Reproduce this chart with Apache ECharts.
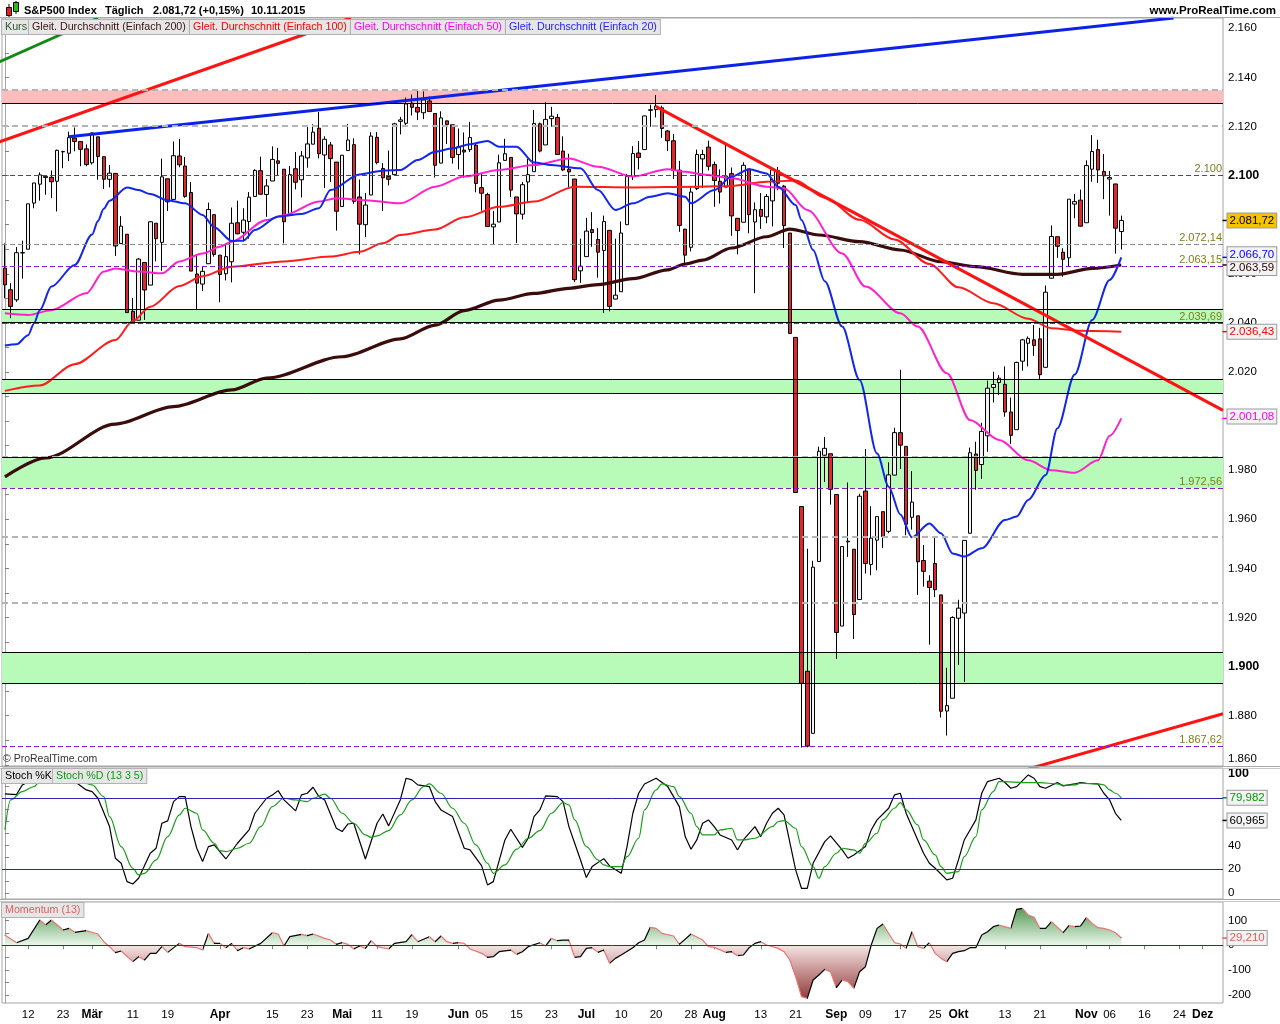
<!DOCTYPE html>
<html>
<head>
<meta charset="utf-8">
<title>S&amp;P500 Index</title>
<script src="https://cdn.jsdelivr.net/npm/echarts@6.0.0/dist/echarts.min.js"></script>
<style>
html,body{margin:0;padding:0;background:#ffffff;}
#chart{width:1280px;height:1024px;}
</style>
</head>
<body>
<div id="chart"></div>
<script>
// ---------------- DATA ----------------
// trading days per month (2015), incl. the empty future days up to early December
const monthKeys = ['2015-02','2015-03','2015-04','2015-05','2015-06','2015-07','2015-08','2015-09','2015-10','2015-11','2015-12'];
const daysFeb = [6,9,10,11,12,13,17,18,19,20,23,24,25,26,27];
const daysMar = [2,3,4,5,6,9,10,11,12,13,16,17,18,19,20,23,24,25,26,27,30,31];
const daysApr = [1,2,6,7,8,9,10,13,14,15,16,17,20,21,22,23,24,27,28,29,30];
const daysMay = [1,4,5,6,7,8,11,12,13,14,15,18,19,20,21,22,26,27,28,29];
const daysJun = [1,2,3,4,5,8,9,10,11,12,15,16,17,18,19,22,23,24,25,26,29,30];
const daysJul = [1,2,6,7,8,9,10,13,14,15,16,17,20,21,22,23,24,27,28,29,30,31];
const daysAug = [3,4,5,6,7,10,11,12,13,14,17,18,19,20,21,24,25,26,27,28,31];
const daysSep = [1,2,3,4,8,9,10,11,14,15,16,17,18,21,22,23,24,25,28,29,30];
const daysOct = [1,2,5,6,7,8,9,12,13,14,15,16,19,20,21,22,23,26,27,28,29,30];
const daysNov = [2,3,4,5,6,9,10,11,12,13,16,17,18,19,20,23,24,25,27,30];
const daysDec = [1,2,3,4];

// daily candles [open, high, low, close]
const candlesFeb = [
[2062.3,2072.4,2050.0,2055.5],[2053.5,2056.2,2041.9,2046.7],[2049.4,2070.9,2048.6,2068.6],[2068.6,2073.5,2058.0,2068.5],
[2070.0,2088.5,2070.0,2088.5],[2088.8,2097.0,2086.7,2097.0],[2096.5,2101.3,2089.8,2100.3],[2099.2,2100.2,2092.2,2099.7],
[2099.3,2102.1,2090.8,2097.5],[2097.7,2110.6,2085.4,2110.3],[2109.8,2110.1,2103.0,2109.7],[2109.1,2117.9,2105.9,2115.5],
[2115.3,2119.6,2109.9,2113.9],[2113.9,2113.9,2103.8,2110.7],[2110.9,2112.7,2103.8,2104.5]];
const candlesMar = [
[2105.2,2117.5,2104.5,2117.4],[2115.8,2115.8,2098.3,2107.8],[2107.7,2107.7,2094.5,2098.5],[2098.5,2104.3,2095.2,2101.0],
[2100.9,2100.9,2067.3,2071.3],[2072.3,2083.5,2072.2,2079.4],[2076.1,2076.1,2044.2,2044.2],[2044.7,2050.1,2039.7,2040.2],
[2041.1,2066.4,2041.1,2066.0],[2064.6,2064.6,2041.2,2053.4],[2055.4,2081.4,2055.4,2081.2],[2080.6,2080.6,2065.1,2074.3],
[2072.8,2106.9,2061.2,2099.5],[2098.7,2098.7,2085.6,2089.3],[2090.3,2113.9,2090.3,2108.1],[2108.0,2114.9,2103.4,2104.4],
[2103.9,2107.6,2091.0,2091.5],[2093.1,2097.4,2061.1,2061.1],[2059.9,2067.2,2045.5,2056.2],[2055.8,2062.8,2053.0,2061.0],
[2064.1,2089.0,2064.1,2086.2],[2084.1,2084.1,2067.0,2067.9]];
const candlesApr = [
[2067.6,2067.6,2048.4,2059.7],[2060.0,2072.2,2057.3,2067.0],[2064.9,2087.0,2056.5,2080.6],[2080.8,2089.8,2076.1,2076.3],
[2076.9,2086.7,2073.3,2081.9],[2081.3,2093.3,2074.3,2091.2],[2091.5,2102.6,2091.5,2102.1],[2102.0,2107.7,2092.3,2092.4],
[2092.3,2098.6,2083.2,2095.8],[2097.8,2111.9,2097.8,2106.6],[2106.0,2111.3,2100.0,2105.0],[2102.6,2102.6,2072.4,2081.2],
[2084.1,2103.9,2084.1,2100.4],[2102.8,2109.6,2094.4,2097.3],[2098.3,2110.0,2091.1,2108.0],[2107.2,2120.5,2103.2,2112.9],
[2112.8,2120.9,2112.8,2117.7],[2119.3,2125.9,2107.0,2108.9],[2108.4,2116.0,2094.9,2114.8],[2112.5,2113.7,2097.4,2106.9],
[2105.5,2105.5,2077.6,2085.5]];
const candlesMay = [
[2087.4,2108.4,2087.4,2108.3],[2110.2,2121.0,2110.2,2114.5],[2112.6,2115.2,2088.5,2089.5],[2091.3,2098.4,2067.9,2080.2],
[2080.0,2092.9,2075.0,2088.0],[2092.1,2117.7,2092.1,2116.1],[2115.6,2117.7,2104.6,2105.3],[2102.9,2105.1,2085.6,2099.1],
[2099.6,2110.2,2096.0,2098.5],[2100.4,2121.5,2100.4,2121.1],[2122.1,2123.9,2116.8,2122.7],[2121.3,2131.8,2120.0,2129.2],
[2129.5,2133.0,2124.5,2127.8],[2127.8,2134.7,2122.6,2125.9],[2125.6,2134.3,2123.0,2130.8],[2130.4,2132.2,2126.1,2126.1],
[2125.3,2125.3,2099.2,2104.2],[2105.1,2126.2,2105.1,2123.5],[2122.3,2122.3,2112.9,2120.8],[2120.7,2120.7,2104.9,2107.4]];
const candlesJun = [
[2108.6,2119.2,2102.5,2111.7],[2110.4,2117.6,2099.1,2109.6],[2110.6,2121.9,2109.6,2115.5],[2112.4,2112.9,2093.2,2096.8],
[2095.1,2101.0,2085.7,2092.8],[2092.3,2093.0,2079.1,2079.3],[2079.1,2085.6,2072.1,2080.2],[2081.1,2108.5,2081.1,2105.2],
[2106.2,2115.0,2106.2,2108.9],[2107.4,2107.4,2091.3,2094.1],[2091.3,2091.3,2072.5,2084.4],[2084.3,2097.4,2082.1,2096.3],
[2097.4,2106.8,2088.9,2100.4],[2101.6,2126.7,2101.6,2121.2],[2121.1,2121.6,2109.5,2110.0],[2112.5,2129.9,2112.5,2122.9],
[2123.2,2128.0,2119.9,2124.2],[2123.7,2125.1,2108.6,2108.6],[2110.0,2116.0,2101.8,2102.3],[2102.6,2108.9,2095.4,2101.5],
[2098.6,2098.6,2056.6,2057.6],[2061.2,2074.3,2056.3,2063.1]];
const candlesJul = [
[2067.0,2082.8,2067.0,2077.4],[2078.0,2085.1,2071.0,2076.8],[2074.0,2078.6,2058.4,2068.8],[2069.5,2083.7,2044.0,2081.3],
[2077.7,2077.7,2044.7,2046.7],[2049.7,2074.3,2049.7,2051.3],[2052.7,2081.3,2052.7,2076.6],[2080.0,2100.7,2080.0,2099.6],
[2099.7,2112.0,2098.2,2109.0],[2109.2,2114.1,2102.5,2107.4],[2110.6,2124.4,2110.6,2124.3],[2126.8,2128.9,2119.9,2126.6],
[2126.9,2132.8,2123.7,2128.3],[2127.6,2128.5,2115.4,2119.2],[2118.2,2118.5,2110.0,2114.2],[2114.2,2116.9,2098.6,2102.2],
[2102.2,2106.0,2077.1,2079.7],[2078.2,2078.2,2063.5,2067.6],[2070.8,2095.6,2069.1,2093.3],[2094.7,2110.6,2094.1,2108.6],
[2106.8,2110.5,2095.0,2108.6],[2111.6,2114.2,2102.1,2103.8]];
const candlesAug = [
[2104.5,2105.7,2087.3,2098.0],[2097.7,2102.5,2088.6,2093.3],[2095.3,2112.7,2095.3,2099.8],[2100.8,2103.3,2075.5,2083.6],
[2082.6,2082.6,2067.9,2077.6],[2081.0,2105.4,2081.0,2104.2],[2102.7,2102.7,2076.5,2084.1],[2081.1,2089.1,2052.1,2086.1],
[2086.2,2092.9,2078.3,2083.4],[2083.2,2092.5,2080.6,2091.5],[2089.7,2102.9,2079.3,2102.4],[2102.0,2103.5,2094.1,2096.9],
[2095.7,2096.2,2070.5,2079.6],[2076.6,2076.6,2035.7,2035.7],[2034.1,2034.1,1970.9,1970.9],[1965.2,1965.2,1867.0,1893.2],
[1898.1,1948.0,1867.1,1867.6],[1872.8,1943.1,1872.8,1940.5],[1942.8,1989.6,1942.8,1987.7],[1986.1,1993.5,1975.2,1988.9],
[1986.7,1986.7,1966.0,1972.2]];
const candlesSep = [
[1970.1,1970.1,1903.1,1913.9],[1916.5,1948.9,1916.5,1948.9],[1950.8,1975.0,1944.7,1951.1],[1947.8,1947.8,1911.2,1921.2],
[1927.3,1970.4,1927.3,1969.4],[1971.5,1988.6,1937.9,1942.0],[1941.6,1965.3,1937.2,1952.3],[1951.5,1961.1,1939.2,1961.1],
[1963.1,1963.1,1948.3,1953.0],[1955.1,1983.2,1954.3,1978.1],[1978.0,1997.3,1977.9,1995.3],[1995.3,2020.9,1980.5,1990.2],
[1989.7,1989.7,1953.5,1958.0],[1960.8,1979.6,1955.8,1967.0],[1961.4,1961.4,1929.2,1942.7],[1943.2,1949.5,1932.6,1938.8],
[1934.8,1937.2,1908.9,1932.2],[1942.0,1952.9,1928.3,1931.3],[1929.2,1929.2,1879.2,1881.8],[1881.9,1899.5,1871.9,1884.1],
[1887.1,1920.5,1887.1,1920.0]];
const candlesOct = [
[1919.7,1927.2,1900.7,1923.8],[1921.8,1951.4,1893.7,1951.4],[1954.3,1989.2,1954.3,1987.1],[1986.6,1991.6,1972.0,1979.9],
[1982.3,1999.3,1976.4,1995.8],[1994.0,2016.5,1987.5,2013.4],[2013.7,2020.1,2007.6,2014.9],[2015.7,2018.7,2010.6,2017.5],
[2015.0,2022.3,2001.8,2003.7],[2003.7,2009.6,1990.7,1994.2],[1996.5,2024.2,1996.5,2023.9],[2024.4,2033.5,2020.5,2033.1],
[2031.7,2034.5,2022.3,2033.7],[2033.1,2039.1,2026.6,2030.8],[2033.5,2038.0,2017.2,2018.9],[2021.9,2055.2,2021.9,2052.5],
[2058.2,2079.7,2058.2,2075.2],[2075.1,2075.1,2066.5,2071.2],[2068.8,2070.4,2058.8,2065.9],[2066.5,2090.4,2063.1,2090.4],
[2088.4,2092.5,2082.6,2089.4],[2090.0,2094.3,2079.3,2079.4]];
const candlesNov = [
[2080.8,2106.2,2080.8,2104.1],[2102.6,2116.5,2097.5,2109.8],[2110.6,2114.6,2097.0,2102.3],[2101.7,2108.8,2090.4,2099.9],
[2098.6,2101.9,2083.7,2099.2],[2096.6,2096.6,2068.2,2078.6],[2077.2,2083.7,2069.9,2081.72]];

// moving averages: [trading-day index, value]
const ma200 = [[0,1977.3],[7,1985.0],[19,1998.8],[29,2005.9],[39,2012.7],[45,2017.5],[58,2026.2],[68,2033.5],[74,2039.1],[79,2045.0],[85,2049.3],[91,2052.0],[97,2054.1],[102,2055.6],[108,2058.0],[114,2061.6],[117,2064.0],[120,2065.6],[125,2070.5],[131,2075.1],[135,2078.2],[140,2075.8],[147,2073.1],[154,2069.7],[161,2064.9],[167,2062.9],[175,2059.8],[181,2059.8],[187,2062.2],[192,2063.59]];
const ma100 = [[0,2012.3],[6,2014.5],[12,2023.2],[19,2033.0],[22,2040.8],[25,2046.6],[30,2055.0],[34,2059.0],[39,2062.9],[48,2065.0],[56,2067.0],[61,2069.0],[65,2072.4],[68,2075.8],[74,2078.0],[79,2083.0],[85,2087.3],[91,2089.4],[98,2095.5],[108,2095.2],[119,2095.5],[125,2095.8],[131,2097.5],[136,2098.0],[141,2091.0],[147,2082.0],[153,2074.0],[159,2064.0],[164,2054.5],[170,2048.0],[176,2041.7],[180,2037.8],[185,2036.8],[192,2036.43]];
const ma50 = [[0,2043.9],[4,2043.2],[8,2045.2],[14,2052.1],[17,2060.9],[19,2062.2],[23,2060.9],[27,2060.2],[30,2065.0],[34,2068.3],[37,2071.0],[39,2073.1],[45,2081.9],[48,2083.9],[54,2089.4],[57,2090.8],[62,2090.0],[68,2088.7],[74,2095.5],[79,2099.6],[85,2102.3],[91,2104.3],[97,2107.0],[102,2103.6],[108,2099.6],[114,2102.6],[117,2101.6],[120,2100.5],[125,2098.9],[131,2095.5],[134,2094.8],[138,2086.0],[144,2068.3],[148,2054.8],[154,2043.9],[157,2038.5],[162,2019.5],[166,2000.4],[171,1992.3],[176,1984.0],[180,1980.0],[184,1979.0],[188,1984.0],[190,1994.0],[192,2001.08]];
const ma20 = [[0,2030.8],[2,2031.3],[4,2035.0],[5,2039.8],[6,2045.2],[8,2054.8],[12,2063.6],[15,2076.0],[16,2081.5],[17,2086.5],[18,2089.8],[21,2095.2],[23,2094.1],[25,2092.5],[28,2090.0],[31,2088.7],[34,2084.0],[36,2079.0],[39,2073.4],[41,2073.5],[43,2077.8],[47,2083.3],[51,2084.4],[54,2086.7],[56,2094.1],[61,2100.5],[65,2102.0],[68,2102.3],[71,2106.4],[74,2109.7],[77,2111.1],[80,2112.8],[83,2114.1],[85,2111.8],[88,2111.8],[91,2105.3],[94,2104.3],[99,2103.0],[102,2094.1],[105,2086.0],[108,2088.7],[111,2091.4],[114,2092.8],[117,2091.4],[118,2088.7],[122,2094.1],[125,2099.6],[128,2102.6],[131,2100.9],[133,2095.5],[136,2088.0],[137,2081.9],[139,2069.7],[141,2057.0],[144,2038.5],[147,2016.7],[150,1986.8],[152,1973.3],[154,1962.0],[156,1952.7],[159,1958.3],[161,1954.3],[163,1946.1],[165,1944.8],[168,1948.2],[172,1959.7],[174,1961.1],[176,1967.9],[179,1978.0],[181,1997.0],[184,2019.0],[187,2041.2],[190,2057.5],[192,2066.7]];

// hand-drawn trend lines: [trading-day index, price]
const trendBlue = [[11,2115.8],[201,2164.2]];
const trendRedUpper = [[-0.9,2113.8],[59.5,2164.2]];
const trendGreen = [[-0.9,2146.4],[16,2164.2]];
const trendRedDown = [[112,2128.1],[209.5,2004.4]];
const trendRedLower = [[176,1858.3],[209.5,1880.8]];

// horizontal levels and zones
const purpleLevels = [2100, 2063.15, 2039.69, 1972.56, 1867.62];
const grayLevel = 2072.14;
const lightGrayLevels = [2134.8, 2120.2, 1985.3, 1952.8, 1926.0];
const pinkZone = [2129.4, 2134.8];
const greenZones = [[2040.1,2045.5],[2011.3,2017.0],[1972.6,1985.4],[1893.2,1905.8]];
const zoneEdges = [2129.4, 2045.5, 2040.1, 2017.0, 2011.3, 1985.4, 1905.8, 1893.2];

// Stochastic (13 3 5): [index, value]
const stochK = [[0,83.2],[2,82.7],[3,90.8],[5,96],[7,98],[9,99],[11,97],[12,93.6],[14,86.6],[15,85.2],[16,79.6],[18,55.8],[19,29.2],[20,25],[21,9.6],[22,7.6],[23,12.4],[25,33.4],[26,37.6],[27,58.6],[28,60.6],[29,76.8],[30,81],[31,81],[32,55.8],[33,37.6],[34,26.4],[35,39],[36,40.4],[38,28.6],[40,41.8],[42,53],[43,67],[45,79.6],[46,82.4],[47,86],[48,78.2],[50,69],[51,82.4],[52,83.8],[53,88.8],[54,81],[55,78.2],[57,54.4],[58,51.6],[59,58],[60,58.6],[62,28.6],[64,58.6],[65,66.4],[66,56.4],[68,78.2],[69,96.4],[70,95],[71,90.8],[73,89.4],[74,76.8],[75,69.8],[77,64.2],[79,37.6],[80,36.2],[82,22.8],[83,6.8],[84,9.6],[86,44.6],[87,53.6],[89,38.4],[90,46],[91,64.2],[92,69.8],[93,81.6],[95,81],[96,76.8],[97,55.8],[98,41.8],[99,27.8],[100,13],[101,22.2],[103,28.9],[104,22.8],[106,16.6],[107,39],[108,67],[109,83.8],[110,91.6],[112,96.4],[114,89.4],[115,81],[116,72.6],[117,47.4],[118,36.8],[119,44.6],[120,58.6],[121,61.4],[122,55.8],[123,48.8],[125,44.6],[126,36.2],[127,44.6],[129,55.8],[130,47.4],[131,58.6],[132,67],[133,71.2],[134,65.6],[136,19.4],[137,4],[138,4],[139,25],[141,43.2],[142,48],[144,36.2],[145,29.2],[146,32],[148,39],[149,53],[150,61.4],[152,71.2],[153,82.4],[154,83.8],[155,67],[157,44.6],[158,33.4],[159,25],[160,20.8],[162,11],[163,12.4],[164,27.8],[165,44.6],[167,61.4],[168,83.8],[169,93.6],[171,96.4],[172,92.8],[173,88],[174,89.4],[176,99.2],[177,96.4],[178,89.4],[179,88],[181,92.8],[182,90],[184,91.6],[185,92.8],[186,92.2],[188,91.6],[189,83.8],[190,78.2],[191,67],[192,60.965]];
const stochD = [[0,53],[1,78.2],[3,85.2],[5,89.4],[6,93.6],[9,97],[11,96.5],[13,93.6],[15,90.8],[17,81],[18,64.2],[20,39],[22,20.8],[23,15.2],[24,16.6],[26,27.8],[28,47.4],[30,65.6],[31,71.2],[33,67],[34,53],[36,41.8],[37,35.6],[38,34.8],[40,37.6],[42,41.8],[44,55.8],[46,72.6],[48,79.6],[50,78.2],[52,76.8],[53,79.6],[55,83],[56,79.6],[58,67],[60,58.6],[62,48.8],[63,46.8],[64,48],[66,52.4],[68,65.6],[70,78.2],[72,89.4],[73,91.6],[75,83.8],[77,71.2],[79,58.6],[81,40.4],[83,25],[84,16.6],[86,23.6],[88,36.8],[90,46],[92,52.4],[94,67],[96,76],[97,74],[98,61.4],[100,39],[102,27.8],[103,23.6],[104,22.2],[106,22.2],[107,30.6],[109,46],[110,69.8],[112,86.6],[113,91.6],[115,89.4],[116,81],[118,67],[119,55.8],[120,48.8],[122,48.8],[123,53],[125,54.4],[126,44.6],[127,44.6],[129,46],[132,55.8],[133,60],[134,60.8],[136,54.4],[137,39],[139,22.2],[140,12.4],[141,22.2],[143,33.4],[144,37.6],[146,36.2],[147,33.4],[148,41.8],[150,50.2],[151,61.4],[153,71.2],[154,76],[155,69.8],[157,57.2],[158,44.6],[160,32],[161,22.2],[162,16.6],[164,18],[165,30.6],[167,47.4],[168,69.8],[170,85.2],[171,93.6],[172,93.6],[175,92.8],[178,92.8],[181,91.6],[182,90.5],[184,90.8],[185,92.2],[188,91.6],[189,90.8],[190,86.6],[191,83.8],[192,79.982]];
const stochLevels = [80, 20];

// Momentum (13): [index, value]
const momentum = [[0,41.4],[2,10.5],[4,28],[6,102],[7,81.7],[8,102],[10,61.6],[11,68.3],[12,52.2],[14,58.9],[16,45.4],[17,14.5],[18,-5.6],[19,-29.8],[20,-23.1],[22,-66],[23,-45.9],[24,-59.4],[25,-32.5],[26,-32.5],[27,-5.6],[28,-28.5],[30,7.8],[31,-5.6],[33,-9.7],[34,-19.1],[35,48.1],[36,7.8],[37,7.8],[38,-9.7],[39,7.8],[40,-21.8],[41,-9.7],[42,-15],[44,7.8],[46,50.8],[47,45.4],[48,-2.7],[49,34.7],[51,44.1],[52,38.7],[53,45.4],[55,28],[56,21.2],[57,3.8],[58,10.5],[59,3.8],[60,-15],[61,-2.7],[62,-12.4],[63,18.6],[64,-5.6],[66,-15],[67,7.8],[69,14.5],[70,42.7],[71,14.5],[73,34.7],[74,14.5],[75,37.4],[76,14.5],[77,7.8],[78,10.5],[79,7.8],[80,-15],[82,-32.5],[83,-48.6],[84,-45.9],[85,-25.8],[87,-19.1],[88,-36.6],[89,-25.8],[90,-5.6],[92,10.5],[93,-2.7],[94,28],[95,18.6],[96,21.2],[97,21.2],[98,-48.6],[99,-45.9],[100,-12.4],[101,-9.7],[102,-28.5],[103,-19.1],[104,-72.8],[105,-52.7],[106,-39.2],[108,-9.7],[109,10.5],[110,21.2],[111,72.3],[112,68.3],[113,48.1],[115,37.4],[116,3.8],[118,45.4],[120,21.2],[121,-5.6],[122,-8.3],[124,-28.5],[125,-25.8],[126,-41.9],[127,-39.2],[128,-9.7],[129,7.8],[130,14.5],[131,1.3],[133,-12.4],[134,-25.8],[135,-59.4],[136,-126.6],[137,-207.2],[138,-214],[139,-140],[140,-119.9],[141,-97],[142,-106.4],[143,-171],[144,-140],[145,-146.8],[146,-173.6],[147,-106.4],[148,-86.3],[149,1.1],[150,68.3],[151,85.8],[153,10.5],[154,5.1],[155,-12.4],[156,54.8],[157,-5.6],[158,-12.4],[159,10.5],[160,-32.5],[161,-52.7],[162,-66],[163,-32.5],[164,-25.8],[165,-21.8],[166,-9.7],[167,-9.7],[168,41.4],[169,54.8],[170,75],[171,81.7],[173,68.3],[174,144.9],[175,149],[176,122],[177,112.6],[178,68.3],[179,68.3],[180,95.2],[182,50.8],[183,79],[184,75],[185,77.7],[186,111.3],[187,88.4],[188,71],[189,68.3],[190,61.6],[191,50.8],[192,29.21]];

// axis ticks / labels
const tickDates = [['2015-02-12','12'],['2015-02-23','23'],['2015-03-02','Mär'],['2015-03-11','11'],['2015-03-19','19'],['2015-04-01','Apr'],['2015-04-15','15'],['2015-04-23','23'],['2015-05-01','Mai'],['2015-05-11','11'],['2015-05-19','19'],['2015-06-01','Jun'],['2015-06-05','05'],['2015-06-15','15'],['2015-06-23','23'],['2015-07-01','Jul'],['2015-07-10','10'],['2015-07-20','20'],['2015-07-28','28'],['2015-08-03','Aug'],['2015-08-13','13'],['2015-08-21','21'],['2015-09-01','Sep'],['2015-09-09','09'],['2015-09-17','17'],['2015-09-25','25'],['2015-10-01','Okt'],['2015-10-13','13'],['2015-10-21','21'],['2015-11-02','Nov'],['2015-11-06','06'],['2015-11-16','16'],['2015-11-24','24'],['2015-12-01','Dez']];
const priceTicks = [1860,1880,1900,1920,1940,1960,1980,2000,2020,2040,2060,2080,2100,2120,2140,2160];
const priceBold = [1900, 2100];
const stochTicks = [0,20,40,60,80,100];
const momTicks = [-200,-100,0,100];

// ---------------- BUILD ----------------
const FONT = '"Liberation Sans", Arial, Helvetica, sans-serif';
const dates = [];
[daysFeb,daysMar,daysApr,daysMay,daysJun,daysJul,daysAug,daysSep,daysOct,daysNov,daysDec].forEach((ds, k) => {
  ds.forEach(d => dates.push(monthKeys[k] + '-' + String(d).padStart(2, '0')));
});
const candles = [].concat(candlesFeb,candlesMar,candlesApr,candlesMay,candlesJun,candlesJul,candlesAug,candlesSep,candlesOct,candlesNov);
const ohlc = candles.map(c => [c[0], c[3], c[2], c[1]]);
const lastClose = candles[candles.length - 1][3];
const prevClose = candles[candles.length - 2][3];
const last = arr => arr[arr.length - 1][1];

function fmtDE(v, d) {
  const s = Math.abs(v).toFixed(d);
  const parts = s.split('.');
  const ip = parts[0].replace(/\B(?=(\d{3})+(?!\d))/g, '.');
  return (v < 0 ? '-' : '') + ip + (parts[1] ? ',' + parts[1] : '');
}
const levelText = v => Number.isInteger(v) ? fmtDE(v, 0) : fmtDE(v, 2);

const N = dates.length;
const xMin = -0.5, xMax = N - 0.5;
const tickIdx = tickDates.map(t => dates.indexOf(t[0]));

const mainRange = [1859.5, 2164.2];
const stochRange = [-5, 105];
const momRange = [-232.7, 174.6];

const G = [
  {left: 2, top: 18, width: 1221, height: 748},
  {left: 2, top: 768, width: 1221, height: 131},
  {left: 2, top: 902, width: 1221, height: 101}
];

const range = (a, b, s) => { const r = []; for (let v = a; v <= b + 1e-9; v += s) r.push(+v.toFixed(4)); return r; };

function tag(value, text, color, bg, dy) {
  return {
    coord: [xMax, value],
    symbol: 'rect', symbolSize: [5, 1.5], symbolOffset: [2, 0],
    itemStyle: {color: color},
    label: {
      show: true, position: 'right', distance: 0, offset: [0, dy || 0],
      formatter: text, color: color, backgroundColor: bg || '#f3f3f3',
      borderColor: '#9a9a9a', borderWidth: 1, padding: [1, 2, 0, 2],
      fontSize: 11.5, lineHeight: 13, fontFamily: FONT
    }
  };
}

function yAxisCfg(gridIndex, rng, labels, minor, boldVals) {
  const lowEdge = labels[0];
  return {
    type: 'value', gridIndex, position: 'right', min: rng[0], max: rng[1],
    axisLine: {show: true, lineStyle: {color: '#a6a6a6', width: 1}},
    axisTick: {show: true, customValues: minor, length: 4, inside: false, lineStyle: {color: '#808080'}},
    axisLabel: {
      show: true, customValues: labels, margin: 5, color: '#000', fontSize: 11.5, fontFamily: FONT,
      formatter: v => {
        if (boldVals.indexOf(v) >= 0) return '{b|' + fmtDE(v, 0) + '}';
        if (gridIndex === 0 && v === lowEdge) return '{lo|' + fmtDE(v, 0) + '}';
        return fmtDE(v, 0);
      },
      rich: {
        b: {fontWeight: 'bold', fontSize: 12.5, color: '#000', fontFamily: FONT},
        lo: {fontSize: 11.5, color: '#000', fontFamily: FONT, padding: [0, 0, 11, 0]}
      }
    },
    splitLine: {show: false}
  };
}

function lineSer(name, data, color, width, xi, yi, z, extra) {
  return Object.assign({
    type: 'line', name, data, xAxisIndex: xi, yAxisIndex: yi,
    showSymbol: false, symbol: 'none', silent: true, z: z,
    lineStyle: {color: color, width: width}, clip: true
  }, extra || {});
}

// zones & levels series
const markLineData = [];
lightGrayLevels.forEach(v => markLineData.push({yAxis: v, lineStyle: {color: '#b4b4b4', type: [6, 4], width: 2}, label: {show: false}}));
zoneEdges.forEach(v => markLineData.push({yAxis: v, lineStyle: {color: '#000', type: 'solid', width: 1}, label: {show: false}}));
markLineData.push({yAxis: grayLevel, lineStyle: {color: '#8a8a8a', type: [5, 3], width: 1},
  label: {show: true, position: 'insideEndTop', distance: 1, formatter: levelText(grayLevel), color: '#7d7d1c', fontSize: 11, fontFamily: FONT}});
purpleLevels.forEach(v => markLineData.push({yAxis: v, lineStyle: {color: '#8a1ad0', type: [5, 3], width: 1},
  label: {show: true, position: 'insideEndTop', distance: 1, formatter: levelText(v), color: '#7d7d1c', fontSize: 11, fontFamily: FONT}}));

const markAreaData = [[{yAxis: pinkZone[0], itemStyle: {color: '#ffbcbc'}}, {yAxis: pinkZone[1]}]];
greenZones.forEach(z => markAreaData.push([{yAxis: z[0], itemStyle: {color: '#b8fbb8'}}, {yAxis: z[1]}]));

// momentum line colour: black when rising, red when falling
const momPieces = [{lte: momentum[0][0], color: '#000000'}];
for (let k = 1; k < momentum.length; k++) {
  momPieces.push({gt: momentum[k - 1][0], lte: momentum[k][0], color: momentum[k][1] >= momentum[k - 1][1] ? '#000000' : '#e87474'});
}
const mTop = G[2].top, mBot = G[2].top + G[2].height;
const zeroOff = momRange[1] / (momRange[1] - momRange[0]);
const momGradient = {
  type: 'linear', x: 0, y: mTop, x2: 0, y2: mBot, global: true,
  colorStops: [
    {offset: 0, color: '#3d8c3d'},
    {offset: zeroOff, color: '#eaf6ea'},
    {offset: zeroOff + 0.0005, color: '#f6e4e4'},
    {offset: 1, color: '#8a2c2c'}
  ]
};

const series = [
  {
    type: 'line', name: 'levels', data: [[xMin, lastClose]], xAxisIndex: 1, yAxisIndex: 0,
    symbol: 'none', showSymbol: false, silent: true, z: 1, lineStyle: {opacity: 0},
    markArea: {silent: true, data: markAreaData},
    markLine: {silent: true, symbol: ['none', 'none'], animation: false, data: markLineData},
    markPoint: {silent: true, animation: false, data: [tag(lastClose, fmtDE(lastClose, 2), '#000000', '#f7c300', 0)]}
  },
  {
    type: 'candlestick', name: 'Kurs', data: ohlc, xAxisIndex: 0, yAxisIndex: 0, barWidth: 4, z: 2, silent: true,
    itemStyle: {color: '#f2f2f2', color0: '#e3262a', borderColor: '#000', borderColor0: '#000', borderColorDoji: '#000', borderWidth: 1}
  },
  lineSer('MA200', ma200, '#3a0c0c', 3.2, 1, 0, 3, {smooth: 0.3, smoothMonotone: 'x',
    markPoint: {silent: true, data: [tag(last(ma200), fmtDE(last(ma200), 2), '#2a0000', '#f3f3f3', 3)]}}),
  lineSer('MA100', ma100, '#ff1c1c', 2, 1, 0, 3, {smooth: 0.3, smoothMonotone: 'x',
    markPoint: {silent: true, data: [tag(last(ma100), fmtDE(last(ma100), 2), '#ff0000', '#f3f3f3', 0)]}}),
  lineSer('MA50', ma50, '#ff22cc', 2, 1, 0, 3, {smooth: 0.3, smoothMonotone: 'x',
    markPoint: {silent: true, data: [tag(last(ma50), fmtDE(last(ma50), 2), '#ff00ff', '#f3f3f3', -2)]}}),
  lineSer('MA20', ma20, '#1226ee', 2, 1, 0, 3, {smooth: 0.3, smoothMonotone: 'x',
    markPoint: {silent: true, data: [tag(last(ma20), fmtDE(last(ma20), 2), '#0000ff', '#f3f3f3', -3)]}}),
  lineSer('trendBlue', trendBlue, '#0c22e8', 3, 1, 0, 4),
  lineSer('trendRedUpper', trendRedUpper, '#ff1414', 3, 1, 0, 4),
  lineSer('trendGreen', trendGreen, '#128a12', 3, 1, 0, 4),
  lineSer('trendRedDown', trendRedDown, '#ff1414', 3.2, 1, 0, 4),
  lineSer('trendRedLower', trendRedLower, '#ff1414', 3, 1, 0, 4),
  lineSer('Stoch %K', stochK, '#000000', 1.2, 2, 1, 3, {
    markLine: {silent: true, symbol: ['none', 'none'], label: {show: false},
      data: stochLevels.map(v => ({yAxis: v, lineStyle: {color: '#2828a8', type: 'solid', width: 1}}))},
    markPoint: {silent: true, data: [tag(last(stochK), fmtDE(last(stochK), 3), '#000000', '#f3f3f3', 0)]}}),
  lineSer('Stoch %D', stochD, '#1a9e1a', 1.2, 2, 1, 3, {smooth: 0.35, smoothMonotone: 'x',
    markPoint: {silent: true, data: [tag(last(stochD), fmtDE(last(stochD), 3), '#009a00', '#f3f3f3', 0)]}}),
  {
    type: 'line', name: 'Momentum', data: momentum, xAxisIndex: 3, yAxisIndex: 2,
    showSymbol: false, symbol: 'none', silent: true, z: 3,
    lineStyle: {width: 1.2},
    areaStyle: {color: momGradient, opacity: 1},
    markLine: {silent: true, symbol: ['none', 'none'], label: {show: false},
      data: [{yAxis: 0, lineStyle: {color: '#2828a8', type: 'solid', width: 1}}]},
    markPoint: {silent: true, data: [tag(last(momentum), fmtDE(last(momentum), 3), '#e05a5a', '#f3f3f3', 0)]}
  }
];
const momIndex = series.length - 1;

// header, legends, watermark
const pct = (lastClose - prevClose) / prevClose * 100;
function boxText(x, y, text, color) {
  return {type: 'text', x: x, y: y, z: 100, silent: true,
    style: {text: text, fill: color, font: '10.7px ' + FONT, backgroundColor: '#e6e6e6',
      borderColor: '#b2b2b2', borderWidth: 1, padding: [2, 3, 1, 3], verticalAlign: 'top', align: 'left'}};
}
function hline(y, color) {
  return {type: 'line', z: 90, silent: true, shape: {x1: 0, y1: y, x2: 1280, y2: y}, style: {stroke: color, lineWidth: 1}};
}
const graphic = [
  hline(17.5, '#a8a8a8'), hline(766.5, '#a8a8a8'), hline(768.5, '#c8c8c8'),
  hline(899.5, '#a8a8a8'), hline(901.5, '#c8c8c8'),
  // small candlestick icon
  {type: 'line', z: 100, silent: true, shape: {x1: 9, y1: 4, x2: 9, y2: 17}, style: {stroke: '#000', lineWidth: 1}},
  {type: 'rect', z: 101, silent: true, shape: {x: 6.5, y: 7.5, width: 5, height: 8}, style: {fill: '#e02020', stroke: '#000', lineWidth: 1}},
  {type: 'line', z: 100, silent: true, shape: {x1: 16, y1: 1, x2: 16, y2: 14}, style: {stroke: '#000', lineWidth: 1}},
  {type: 'rect', z: 101, silent: true, shape: {x: 13.5, y: 2.5, width: 5, height: 9}, style: {fill: '#20c020', stroke: '#000', lineWidth: 1}},
  {type: 'text', x: 24, y: 11, z: 100, silent: true, style: {text: 'S&P500 Index', fill: '#000', font: 'bold 11px ' + FONT, verticalAlign: 'middle'}},
  {type: 'text', x: 105, y: 11, z: 100, silent: true, style: {text: 'Täglich', fill: '#000', font: 'bold 11px ' + FONT, verticalAlign: 'middle'}},
  {type: 'text', x: 153, y: 11, z: 100, silent: true, style: {text: fmtDE(lastClose, 2) + ' (+' + fmtDE(pct, 2) + '%)', fill: '#000', font: 'bold 11px ' + FONT, verticalAlign: 'middle'}},
  {type: 'text', x: 251, y: 11, z: 100, silent: true, style: {text: '10.11.2015', fill: '#000', font: 'bold 11px ' + FONT, verticalAlign: 'middle'}},
  {type: 'text', x: 1276, y: 11, z: 100, silent: true, style: {text: 'www.ProRealTime.com', fill: '#000', font: 'bold 11.5px ' + FONT, align: 'right', verticalAlign: 'middle'}},
  boxText(2, 20, 'Kurs', '#2e5a2e'),
  boxText(29, 20, 'Gleit. Durchschnitt (Einfach 200)', '#3a1414'),
  boxText(190, 20, 'Gleit. Durchschnitt (Einfach 100)', '#ff0000'),
  boxText(351, 20, 'Gleit. Durchschnitt (Einfach 50)', '#ff00ff'),
  boxText(506, 20, 'Gleit. Durchschnitt (Einfach 20)', '#2222ff'),
  boxText(2, 769, 'Stoch %K', '#000000'),
  boxText(53, 769, 'Stoch %D (13 3 5)', '#12961a'),
  boxText(2, 903, 'Momentum (13)', '#e06060'),
  {type: 'text', x: 3, y: 759, z: 100, silent: true, style: {text: '© ProRealTime.com', fill: '#333', font: '10.5px ' + FONT, verticalAlign: 'middle'}}
];

const option = {
  animation: false,
  backgroundColor: '#ffffff',
  textStyle: {fontFamily: FONT},
  grid: G.map(g => Object.assign({show: true, borderColor: '#a6a6a6', borderWidth: 1, backgroundColor: 'transparent', containLabel: false, outerBoundsMode: 'none'}, g)),
  xAxis: [
    {type: 'category', gridIndex: 0, data: dates, boundaryGap: true, show: false},
    {type: 'value', gridIndex: 0, min: xMin, max: xMax, show: false},
    {type: 'value', gridIndex: 1, min: xMin, max: xMax, show: false},
    {type: 'value', gridIndex: 2, min: xMin, max: xMax, show: true, position: 'bottom',
      axisLine: {show: true, lineStyle: {color: '#a6a6a6'}},
      axisTick: {show: true, customValues: tickIdx, length: 4, lineStyle: {color: '#808080'}},
      axisLabel: {show: true, customValues: tickIdx, margin: 6, color: '#000', fontSize: 11.5, fontFamily: FONT,
        formatter: v => {
          const k = tickIdx.indexOf(Math.round(v));
          if (k < 0) return '';
          const t = tickDates[k][1];
          return /^\d+$/.test(t) ? t : '{m|' + t + '}';
        },
        rich: {m: {fontWeight: 'bold', fontSize: 12, color: '#000', fontFamily: FONT}}},
      splitLine: {show: false}}
  ],
  yAxis: [
    yAxisCfg(0, mainRange, priceTicks, range(1860, 2160, 10), priceBold),
    yAxisCfg(1, stochRange, stochTicks, range(0, 100, 10), [100]),
    yAxisCfg(2, momRange, momTicks, range(-200, 150, 50), [])
  ],
  visualMap: [{type: 'piecewise', show: false, seriesIndex: momIndex, dimension: 0, pieces: momPieces, outOfRange: {color: '#000000'}}],
  series: series,
  graphic: graphic
};

const chart = echarts.init(document.getElementById('chart'), null, {renderer: 'canvas', width: 1280, height: 1024});
chart.setOption(option);
</script>
</body>
</html>
